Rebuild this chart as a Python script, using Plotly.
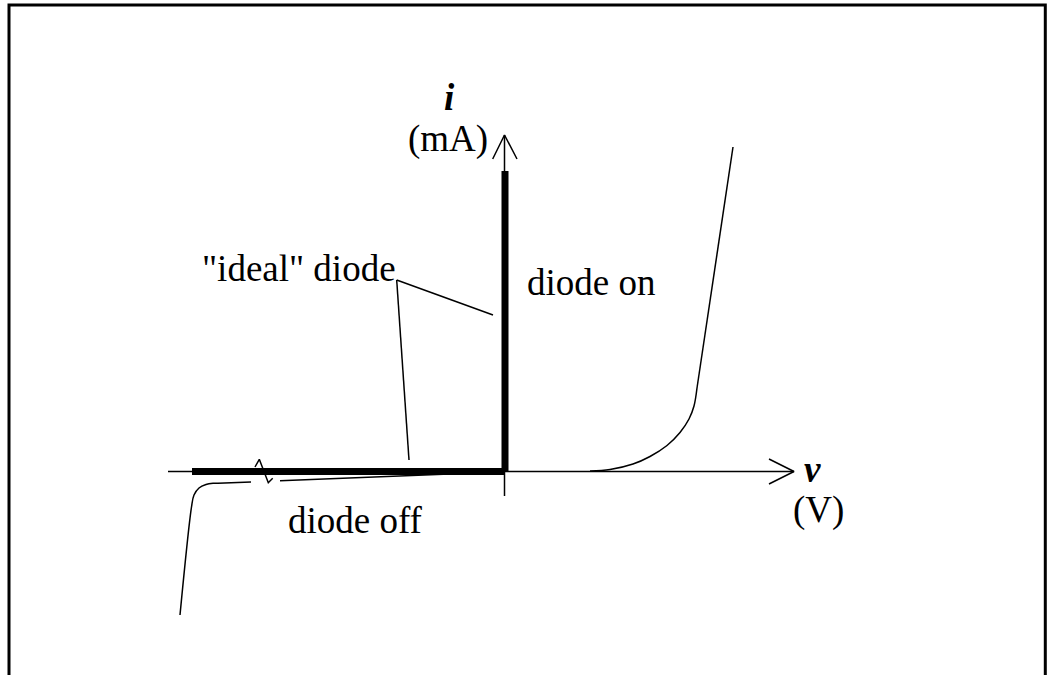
import plotly.graph_objects as go

# Schematic diode i-v characteristic (diagram units: 1 unit = 100 px, origin at axis crossing)
# Real diode, forward region (knee curve + steep straight rise)
fwd_knee_v = [0.85, 1.05, 1.28, 1.45, 1.62, 1.75, 1.84, 1.89, 1.92]
fwd_knee_i = [0.005, 0.02, 0.075, 0.15, 0.26, 0.39, 0.525, 0.655, 0.835]
fwd_rise_v = [1.92, 2.28]
fwd_rise_i = [0.835, 3.245]

# Real diode, reverse region (breakdown knee + small leakage)
rev_knee_v = [-3.25, -3.135, -3.11, -3.06, -2.99, -2.92, -2.87, -2.54]
rev_knee_i = [-1.435, -0.355, -0.235, -0.165, -0.13, -0.118, -0.117, -0.104]
rev_leak_v = [-2.25, -0.05]
rev_leak_i = [-0.092, -0.005]

# Axis break mark on v axis
break_v = [-2.50, -2.457, -2.367, -2.323]
break_i = [0.045, 0.122, -0.112, -0.068]

# Ideal diode characteristic
ideal_off_v = [-3.13, 0.0]
ideal_off_i = [0.0, 0.0]
ideal_on_v = [0.0, 0.0]
ideal_on_i = [0.0, 3.005]

# Axes with open arrowheads
v_axis_v = [-3.37, 2.89]
v_axis_i = [0.0, 0.0]
v_head_v = [2.64, 2.89, 2.64]
v_head_i = [0.125, 0.0, -0.125]
i_axis_v = [-0.005, -0.005]
i_axis_i = [-0.245, 3.365]
i_head_v = [-0.123, -0.005, 0.12]
i_head_i = [3.125, 3.365, 3.125]

# Leader lines from the "ideal" diode label
lead1_v = [-1.083, -0.12]
lead1_i = [1.915, 1.565]
lead2_v = [-1.083, -0.96]
lead2_i = [1.915, 0.115]

# Text labels
label_text = ["<b><i>i</i></b>", "(mA)", "diode on", "\"ideal\" diode", "diode off", "<b><i>v</i></b>", "(V)"]
label_v = [-0.56, -0.575, 0.86, -2.06, -1.495, 3.07, 3.13]
label_i = [3.74, 3.325, 1.895, 2.035, -0.485, 0.02, -0.385]

fig = go.Figure()

def line(xs, ys, w):
    fig.add_trace(go.Scatter(x=xs, y=ys, mode="lines",
                             line=dict(color="black", width=w),
                             hoverinfo="skip", showlegend=False))

line(v_axis_v, v_axis_i, 1.5)
line(v_head_v, v_head_i, 1.5)
line(i_axis_v, i_axis_i, 1.5)
line(i_head_v, i_head_i, 1.5)
line(break_v, break_i, 1.5)
fig.add_trace(go.Scatter(x=fwd_knee_v, y=fwd_knee_i, mode="lines",
                         line=dict(color="black", width=1.5, shape="spline", smoothing=1.0),
                         hoverinfo="skip", showlegend=False))
line(fwd_rise_v, fwd_rise_i, 1.5)
fig.add_trace(go.Scatter(x=rev_knee_v, y=rev_knee_i, mode="lines",
                         line=dict(color="black", width=1.5, shape="spline", smoothing=1.0),
                         hoverinfo="skip", showlegend=False))
line(rev_leak_v, rev_leak_i, 1.5)
line(lead1_v, lead1_i, 1.5)
line(lead2_v, lead2_i, 1.5)
line(ideal_off_v, ideal_off_i, 7)
line(ideal_on_v, ideal_on_i, 7)

for t, xv, yv in zip(label_text, label_v, label_i):
    fig.add_annotation(x=xv, y=yv, xref="x", yref="y", text=t, showarrow=False,
                       xanchor="center", yanchor="middle",
                       font=dict(family="Liberation Serif", size=37, color="black"))

fig.add_shape(type="rect", xref="paper", yref="paper",
              x0=9 / 1047, x1=1045.3 / 1047, y0=-0.1, y1=1 - 5 / 675,
              line=dict(color="black", width=3), fillcolor="rgba(0,0,0,0)")

fig.update_layout(
    width=1047, height=675, autosize=False,
    margin=dict(l=0, r=0, t=0, b=0, pad=0),
    paper_bgcolor="white", plot_bgcolor="white",
    xaxis=dict(range=[-5.05, 5.42], visible=False, fixedrange=True),
    yaxis=dict(range=[-2.035, 4.715], visible=False, fixedrange=True),
    showlegend=False,
)

fig.write_html("out.html", config={"displayModeBar": False},
               post_script="document.body.style.margin='0';")
